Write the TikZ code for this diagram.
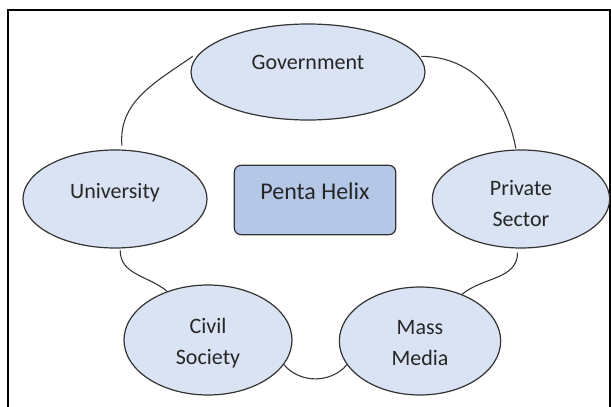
\documentclass[tikz,border=0pt]{standalone}
\usepackage{fontspec}
\setmainfont{Carlito}
\usetikzlibrary{shapes.geometric}
\definecolor{helixfill}{RGB}{218,227,243}
\definecolor{corefill}{RGB}{180,199,231}
\definecolor{helixline}{RGB}{51,51,51}
\tikzset{
  helix/.style={ellipse, draw=helixline, fill=helixfill, line width=0.9pt, inner sep=0pt, align=center, text=black!85, font=\fontsize{16.5}{23}\selectfont},
  core/.style={rectangle, rounded corners=5pt, draw=helixline, fill=corefill, line width=0.9pt, inner sep=0pt, text=black!85, font=\fontsize{18}{22}\selectfont},
  link/.style={draw=helixline, line width=0.8pt}
}

\begin{document}
\begin{tikzpicture}[x=0.75pt,y=0.75pt,yscale=-1,xscale=1]
\useasboundingbox (0,0) rectangle (611,407);

%Shape: Frame
\draw [line width=1.5pt] (8,10) rectangle (609.5,440) ;

%Shape: Ellipse [Government]
\node (gov) at (308,72) [helix, minimum width=175.5pt, minimum height=72pt] {\raisebox{15pt}{Government}};
%Shape: Ellipse [University]
\node (univ) at (115,199) [helix, minimum width=138pt, minimum height=73.5pt] {\raisebox{12.5pt}{University}};
%Shape: Ellipse [Private Sector]
\node (priv) at (521,199) [helix, minimum width=133pt, minimum height=73.5pt] {\rule{0pt}{18pt}Private\\Sector};
%Shape: Ellipse [Civil Society]
\node (civil) at (208,340) [helix, minimum width=126pt, minimum height=82.5pt] {\rule{0pt}{16pt}Civil\\Society};
%Shape: Ellipse [Mass Media]
\node (media) at (420,341) [helix, minimum width=121pt, minimum height=81pt] {\rule{0pt}{14pt}Mass\\Media};
%Shape: Rectangle [Penta Helix]
\node (penta) at (315,200) [core, minimum width=121pt, minimum height=52pt] {\raisebox{13.5pt}{Penta Helix}};

%Curve Lines
\draw [link] ([shift={(-4,0)}]gov.172) to [out=145,in=265] ([shift={(0,-4)}]univ.82) ;
\draw [link] ([shift={(2,0)}]gov.8) to [out=0,in=260] ([shift={(0,-1)}]priv.96) ;
\draw [link] ([shift={(0,4)}]priv.266) to [out=90,in=320] (media.48) ;
\draw [link] (media.198) to [out=130,in=50] (civil.342) ;
\draw [link] (civil.130) to [out=220,in=90] ([shift={(0,2)}]univ.276) ;

\end{tikzpicture}
\end{document}
